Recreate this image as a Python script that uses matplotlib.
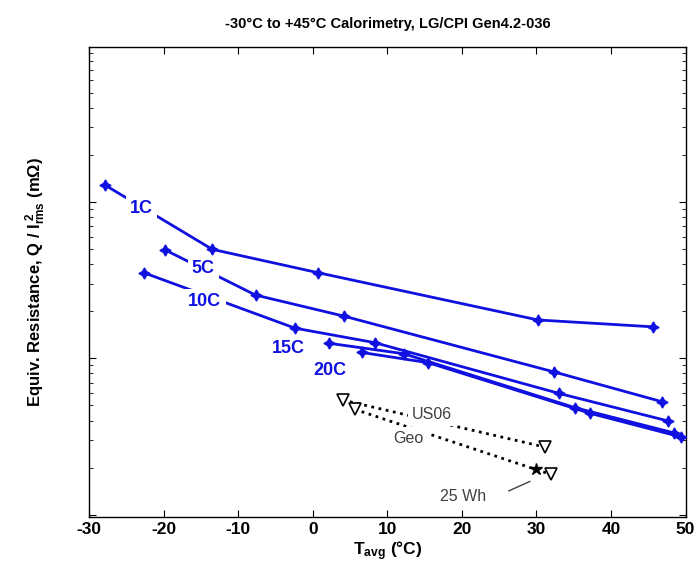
import numpy as np
import matplotlib
matplotlib.use('Agg')
import matplotlib.pyplot as plt
from matplotlib.ticker import LogLocator, NullFormatter

plt.rcParams['font.family'] = ['Liberation Sans', 'DejaVu Sans']
plt.rcParams['mathtext.default'] = 'regular'
plt.rcParams['axes.unicode_minus'] = False

# rate series, T_avg (deg C) vs equivalent resistance (mOhm)
t_1c = [-27.9, -13.5, 0.7, 30.2, 45.7]
r_1c = [128.4, 49.8, 35.3, 17.6, 15.9]
t_5c = [-19.8, -7.7, 4.2, 32.3, 46.9]
r_5c = [49.3, 25.4, 18.6, 8.2, 5.27]
t_10c = [-22.7, -2.4, 8.3, 33.0, 47.7]
r_10c = [35.3, 15.6, 12.6, 5.97, 3.97]
t_15c = [2.1, 12.2, 35.2, 48.5]
r_15c = [12.5, 10.7, 4.83, 3.33]
t_20c = [6.6, 15.5, 37.2, 49.4]
r_20c = [10.9, 9.37, 4.45, 3.14]

# drive cycles
t_us06 = [4.0, 31.2]
r_us06 = [5.41, 2.70]
t_geo = [5.6, 31.9]
r_geo = [4.72, 1.81]
t_25wh = [29.9]
r_25wh = [1.96]

blue = '#1010e0'
fig = plt.figure(figsize=(6.94, 5.73), dpi=100)
ax = fig.add_axes([0.1287, 0.0982, 0.8591, 0.8193])

star4 = (4, 1, 0)
for t, r in [(t_1c, r_1c), (t_5c, r_5c), (t_10c, r_10c),
             (t_15c, r_15c), (t_20c, r_20c)]:
    ax.plot(t, r, '-', color=blue, lw=2, marker=star4, ms=8,
            mfc=blue, mec=blue, zorder=3)

ax.plot(t_us06, r_us06, ':', color='black', lw=2, marker='v', ms=9,
        mfc='white', mec='black', mew=1.2, zorder=3)
ax.plot(t_geo, r_geo, ':', color='black', lw=2, marker='v', ms=9,
        mfc='white', mec='black', mew=1.2, zorder=3)
ax.plot(t_25wh, r_25wh, '*', color='black', ms=9, zorder=4)

# inline labels (gaps in lines)
bb = dict(facecolor='white', edgecolor='none', pad=3)
lab_kw = dict(color=blue, fontsize=13, fontweight='bold', ha='center',
              va='center', bbox=bb, zorder=5)
ax.text(-23.0, 91, '1C', **lab_kw)
ax.text(-14.7, 37.6, '5C', **lab_kw)
ax.text(-14.5, 23.0, '10C', **lab_kw)
ax.text(-3.3, 11.5, '15C', **lab_kw)
ax.text(2.3, 8.4, '20C', **lab_kw)

grey_kw = dict(color='#404040', fontsize=11.5, ha='center', va='center',
               bbox=bb, zorder=5)
ax.text(16.0, 4.4, 'US06', **grey_kw)
ax.text(12.8, 3.06, 'Geo', **grey_kw)
ax.text(20.2, 1.3, '25 Wh', **grey_kw)
ax.plot([26.3, 29.1], [1.42, 1.63], '-', color='#404040', lw=1)

ax.set_xlim(-30, 50)
ax.set_ylim(0.97, 977)
ax.set_yscale('log')
ax.set_xticks(np.arange(-30, 51, 10))
ax.yaxis.set_major_locator(LogLocator(base=10))
ax.yaxis.set_minor_locator(LogLocator(base=10, subs=np.arange(2, 10)))
ax.yaxis.set_major_formatter(NullFormatter())
ax.yaxis.set_minor_formatter(NullFormatter())
ax.tick_params(direction='in', top=True, right=True, which='both',
               labelsize=12.5)
ax.tick_params(which='major', length=5)
ax.tick_params(which='minor', length=3)
for lab in ax.get_xticklabels():
    lab.set_fontweight('bold')
for s in ax.spines.values():
    s.set_linewidth(1.0)

ax.set_title('-30\u00b0C to +45\u00b0C Calorimetry, LG/CPI Gen4.2-036',
             fontsize=10.5, fontweight='bold', pad=14)
ax.set_xlabel('T$_{avg}$ (\u00b0C)', fontsize=12.5, fontweight='bold',
              labelpad=2)
ax.set_ylabel('Equiv. Resistance, Q / I$_{rms}^{\\ 2}$ (m\u03a9)',
              fontsize=12, fontweight='bold', labelpad=26)

fig.savefig('out.png', dpi=100)
